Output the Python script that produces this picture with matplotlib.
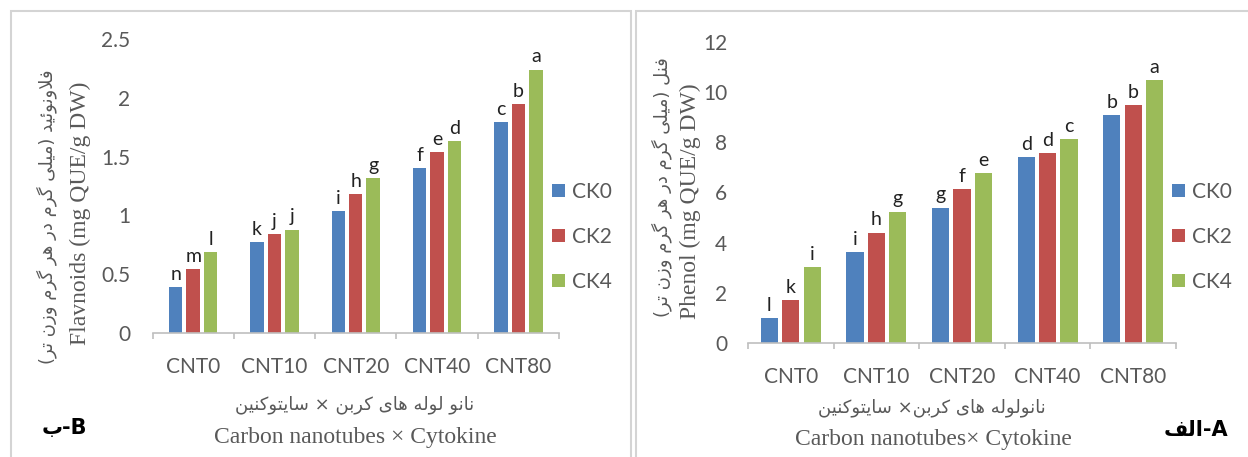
import numpy as np
import matplotlib
matplotlib.use("Agg")
import matplotlib.pyplot as plt
from matplotlib.patches import Rectangle, Patch
from matplotlib import font_manager
from matplotlib.ticker import FixedLocator

# ---------------- data ----------------
categories = ["CNT0", "CNT10", "CNT20", "CNT40", "CNT80"]
series_names = ["CK0", "CK2", "CK4"]

flav_ck0 = [0.39, 0.77, 1.04, 1.40, 1.79]
flav_ck2 = [0.54, 0.84, 1.18, 1.54, 1.95]
flav_ck4 = [0.69, 0.88, 1.32, 1.63, 2.24]
flav_let_ck0 = ["n", "k", "i", "f", "c"]
flav_let_ck2 = ["m", "j", "h", "e", "b"]
flav_let_ck4 = ["l", "j", "g", "d", "a"]

phen_ck0 = [1.00, 3.64, 5.40, 7.40, 9.08]
phen_ck2 = [1.72, 4.40, 6.12, 7.56, 9.48]
phen_ck4 = [3.04, 5.24, 6.76, 8.12, 10.48]
phen_let_ck0 = ["l", "i", "g", "d", "b"]
phen_let_ck2 = ["k", "h", "f", "d", "b"]
phen_let_ck4 = ["i", "g", "e", "c", "a"]

flav_yticks = [0, 0.5, 1, 1.5, 2, 2.5]
flav_yticklabels = ["0", "0.5", "1", "1.5", "2", "2.5"]
phen_yticks = [0, 2, 4, 6, 8, 10, 12]
phen_yticklabels = ["0", "2", "4", "6", "8", "10", "12"]

flav_ylabel_fa = "فلاونوئید (میلی گرم در هر گرم وزن تر)"
flav_ylabel_en = "Flavnoids (mg QUE/g DW)"
phen_ylabel_fa = "فنل (میلی گرم در هر گرم وزن تر)"
phen_ylabel_en = "Phenol (mg QUE/g DW)"
flav_xlabel_fa = "نانو لوله های کربن × سایتوکنین"
flav_xlabel_en = "Carbon nanotubes × Cytokine"
phen_xlabel_fa = "نانولوله های کربن× سایتوکنین"
phen_xlabel_en = "Carbon nanotubes× Cytokine"
panel_B_fa = "ب"
panel_B_en = "B"
panel_A_fa = "الف"
panel_A_en = "A"

colors = ["#4F81BD", "#C0504D", "#9BBB59"]

# ---------------- simple Arabic/Persian shaping ----------------
try:
    from fontTools.ttLib import TTFont
    _dv = font_manager.findfont(font_manager.FontProperties(family="DejaVu Sans"))
    _cmap = TTFont(_dv).getBestCmap()
    def has(c):
        return ord(c) in _cmap
except Exception:
    def has(c):
        return True

FORMS = {
    "ا": ("\uFE8D", "\uFE8E", None, None),
    "ب": ("\uFE8F", "\uFE90", "\uFE91", "\uFE92"),
    "ت": ("\uFE95", "\uFE96", "\uFE97", "\uFE98"),
    "ئ": ("\uFE89", "\uFE8A", "\uFE8B", "\uFE8C"),
    "د": ("\uFEA9", "\uFEAA", None, None),
    "ر": ("\uFEAD", "\uFEAE", None, None),
    "ز": ("\uFEAF", "\uFEB0", None, None),
    "س": ("\uFEB1", "\uFEB2", "\uFEB3", "\uFEB4"),
    "ف": ("\uFED1", "\uFED2", "\uFED3", "\uFED4"),
    "ل": ("\uFEDD", "\uFEDE", "\uFEDF", "\uFEE0"),
    "م": ("\uFEE1", "\uFEE2", "\uFEE3", "\uFEE4"),
    "ن": ("\uFEE5", "\uFEE6", "\uFEE7", "\uFEE8"),
    "ه": ("\uFEE9", "\uFEEA", "\uFEEB", "\uFEEC"),
    "و": ("\uFEED", "\uFEEE", None, None),
    "ی": ("\uFBFC", "\uFBFD", "\uFBFE", "\uFBFF"),
    "ک": ("\uFB8E", "\uFB8F", "\uFB90", "\uFB91"),
    "گ": ("\uFB92", "\uFB93", "\uFB94", "\uFB95"),
}
FALLBACK = {
    "ی": ("\uFEEF", "\uFEF0", "\uFEF3", "\uFEF4"),
    "ک": ("\uFED9", "\uFEDA", "\uFEDB", "\uFEDC"),
    "گ": ("\uFED9", "\uFEDA", "\uFEDB", "\uFEDC"),
}
for k, v in FALLBACK.items():
    if not all(has(g) for g in FORMS[k]):
        FORMS[k] = v


def shape(s):
    chars = list(s)
    n = len(chars)
    out = []

    def joins_left(c):
        return c in FORMS and FORMS[c][2] is not None

    i = 0
    while i < n:
        c = chars[i]
        if c not in FORMS:
            out.append(c)
            i += 1
            continue
        prev = chars[i - 1] if i > 0 else None
        jp = prev is not None and joins_left(prev)
        if c == "ل" and i + 1 < n and chars[i + 1] == "ا":
            out.append("\uFEFC" if jp else "\uFEFB")
            i += 2
            continue
        nxt = chars[i + 1] if i + 1 < n else None
        jn = joins_left(c) and nxt is not None and nxt in FORMS
        iso, fin, ini, med = FORMS[c]
        if jp and jn:
            g = med
        elif jp:
            g = fin
        elif jn:
            g = ini
        else:
            g = iso
        out.append(g)
        i += 1
    vis = "".join(reversed(out))
    return vis.translate(str.maketrans("()", ")("))


# ---------------- figure ----------------
W, H = 1248, 457
fig = plt.figure(figsize=(W / 100, H / 100), dpi=100)
fig.patch.set_facecolor("white")

TICK_FONT = "Lato"
GRAY = "#595959"
AXIS_GRAY = "#BFBFBF"


def px_axes(x0, y_top, x1, y_base):
    return [x0 / W, (H - y_base) / H, (x1 - x0) / W, (y_base - y_top) / H]


def draw_panel(ax, vals, lets, width, step, ylim, yticks, yticklabels, ypad, xpad):
    x = np.arange(len(categories))
    for k, (v, L, c) in enumerate(zip(vals, lets, colors)):
        xs = x + (k - 1) * step
        ax.bar(xs, v, width=width, color=c, label=series_names[k], zorder=2)
        for xi, vi, li in zip(xs, v, L):
            ax.annotate(li, (xi, vi), xytext=(0, 3), textcoords="offset points",
                        ha="center", va="bottom", fontsize=14, family=TICK_FONT,
                        color="#222222")
    ax.set_xlim(-0.5, len(categories) - 0.5)
    ax.set_ylim(*ylim)
    ax.set_yticks(yticks)
    ax.set_yticklabels(yticklabels)
    ax.set_xticks(x)
    ax.set_xticklabels(categories)
    ax.xaxis.set_minor_locator(FixedLocator(np.arange(-0.5, len(categories), 1.0)))
    for s in ["top", "right", "left"]:
        ax.spines[s].set_visible(False)
    ax.spines["bottom"].set_color(AXIS_GRAY)
    ax.spines["bottom"].set_linewidth(1.2)
    ax.tick_params(axis="y", length=0, pad=ypad, labelsize=15, labelcolor=GRAY)
    ax.tick_params(axis="x", which="major", length=0, pad=xpad, labelsize=15,
                   labelcolor=GRAY)
    ax.tick_params(axis="x", which="minor", length=4, width=1.2, color=AXIS_GRAY,
                   direction="out")
    for lab in ax.get_xticklabels() + ax.get_yticklabels():
        lab.set_family(TICK_FONT)
    ax.set_facecolor("none")


axL = fig.add_axes(px_axes(152.5, 39, 559, 333))
draw_panel(axL, [flav_ck0, flav_ck2, flav_ck4], [flav_let_ck0, flav_let_ck2, flav_let_ck4],
           0.166, 0.215, (0, 2.5), flav_yticks, flav_yticklabels, 16, 17)

axR = fig.add_axes(px_axes(748, 42, 1176, 343))
draw_panel(axR, [phen_ck0, phen_ck2, phen_ck4], [phen_let_ck0, phen_let_ck2, phen_let_ck4],
           0.2, 0.25, (0, 12), phen_yticks, phen_yticklabels, 15, 17)

# legends
for ax, lx, ly in [(axL, 552, 237), (axR, 1172, 237)]:
    handles = [Patch(facecolor=c, edgecolor="none") for c in colors]
    leg = fig.legend(handles, series_names, loc="center left",
                     bbox_to_anchor=(lx / W, 1 - ly / H), frameon=False,
                     handlelength=0.6, handleheight=0.6, handletextpad=0.35,
                     labelspacing=1.2, borderpad=0, borderaxespad=0,
                     prop={"family": TICK_FONT, "size": 15})
    for t in leg.get_texts():
        t.set_color(GRAY)


def ftext(px, py, s, **kw):
    fig.text(px / W, 1 - py / H, s, ha="center", va="center", **kw)


FA = dict(family="DejaVu Sans", color=GRAY)
EN = dict(family="Liberation Serif", color=GRAY)

# y labels
ftext(47, 217, shape(flav_ylabel_fa), rotation=90, fontsize=13, **FA)
ftext(80, 213, flav_ylabel_en, rotation=90, fontsize=17, **EN)
ftext(662, 187, shape(phen_ylabel_fa), rotation=90, fontsize=13, **FA)
ftext(690, 201, phen_ylabel_en, rotation=90, fontsize=17, **EN)

# x labels
ftext(355, 405, shape(flav_xlabel_fa), fontsize=13, **FA)
ftext(355, 437, flav_xlabel_en, fontsize=17, **EN)
ftext(932, 408, shape(phen_xlabel_fa), fontsize=13, **FA)
ftext(933, 439, phen_xlabel_en, fontsize=17, **EN)

# panel labels
ftext(64, 428, shape(panel_B_fa) + "-" + panel_B_en, fontsize=15,
      fontweight="bold", family="DejaVu Sans", color="black")
ftext(1196, 430, shape(panel_A_fa) + "-" + panel_A_en, fontsize=15,
      fontweight="bold", family="DejaVu Sans", color="black")

# panel frames
for (x0, x1) in [(11, 631), (636, 1252)]:
    fig.add_artist(Rectangle((x0 / W, -0.05), (x1 - x0) / W, (1 - 11 / H) + 0.05,
                             transform=fig.transFigure, fill=False,
                             edgecolor="#D4D4D4", linewidth=1.5))

fig.savefig("out.png", dpi=100, facecolor="white")
